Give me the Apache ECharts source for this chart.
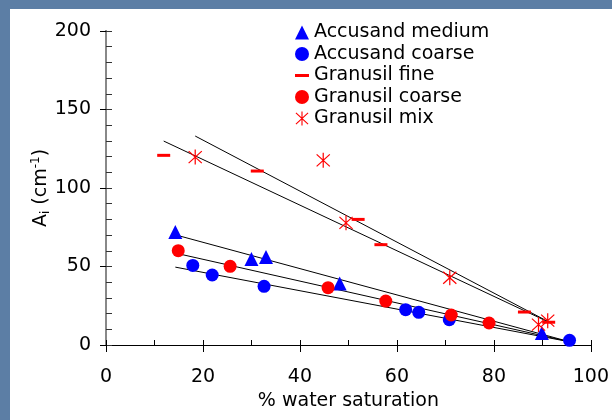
<!DOCTYPE html>
<html>
<head>
<meta charset="utf-8">
<script src="https://cdn.jsdelivr.net/npm/echarts@6/dist/echarts.min.js"></script>
<style>
html,body{margin:0;padding:0;background:#5c7ea5;}
#c{width:612px;height:420px;}
</style>
</head>
<body>
<div id="c"></div>
<script>
// ---- data ----
var accusandMediumX = [14.3, 30.0, 33.0, 48.2, 89.9];
var accusandMediumY = [72.0, 54.8, 56.1, 39.1, 7.6];

var accusandCoarseX = [17.9, 21.9, 32.6, 61.8, 64.5, 70.8, 95.6];
var accusandCoarseY = [50.7, 44.6, 37.4, 22.5, 20.8, 16.1, 3.0];

var granusilFineX = [11.9, 31.2, 52.0, 56.7, 86.3, 91.3];
var granusilFineY = [120.8, 110.8, 80.0, 63.9, 21.0, 14.5];

var granusilCoarseX = [14.9, 25.6, 45.8, 57.7, 71.2, 79.0];
var granusilCoarseY = [60.1, 50.1, 36.5, 28.0, 19.1, 14.0];

var granusilMixX = [18.4, 44.8, 49.5, 70.9, 89.2, 91.1];
var granusilMixY = [119.7, 117.6, 77.8, 42.8, 13.0, 15.5];

// fitted trend lines (start/end points)
var fitMixX = [18.4, 91.0];       var fitMixY = [133.1, 15.2];
var fitFineX = [11.9, 91.0];      var fitFineY = [129.9, 15.0];
var fitAccMedX = [14.4, 95.7];    var fitAccMedY = [70.1, 2.0];
var fitGranCoarseX = [15.1, 95.7];var fitGranCoarseY = [58.0, 2.0];
var fitAccCoarseX = [14.3, 95.7]; var fitAccCoarseY = [49.6, 2.0];

var xTicks = [0, 20, 40, 60, 80, 100];
var yTicks = [0, 50, 100, 150, 200];

var seriesNames = ['Accusand medium', 'Accusand coarse', 'Granusil fine', 'Granusil coarse', 'Granusil mix'];

function pairs(xs, ys) { return xs.map(function (x, i) { return [x, ys[i]]; }); }

// asterisk path (filled thin bars)
function bar(x1, y1, x2, y2, w) {
  var dx = x2 - x1, dy = y2 - y1, L = Math.sqrt(dx * dx + dy * dy);
  var nx = -dy / L * w / 2, ny = dx / L * w / 2;
  return 'M' + (x1 + nx) + ',' + (y1 + ny) + ' L' + (x2 + nx) + ',' + (y2 + ny) +
         ' L' + (x2 - nx) + ',' + (y2 - ny) + ' L' + (x1 - nx) + ',' + (y1 - ny) + ' Z ';
}
var starPath = 'path://' + bar(7, 0, 7, 15, 1.2) + bar(0.5, 1.5, 13.5, 13.5, 1.2) + bar(0.5, 13.5, 13.5, 1.5, 1.2);
var dashIcon = 'path://M0,5.6 L14,5.6 L14,8.6 L0,8.6 Z M0,0 L0.01,0 L0.01,0.01 Z M14,14 L13.99,14 L13.99,13.99 Z';

var chart = echarts.init(document.getElementById('c'));
var font = 'DejaVu Sans';

function fitLine(xs, ys) {
  return {
    type: 'line', data: pairs(xs, ys), symbol: 'none', silent: true, z: 1,
    lineStyle: { color: '#000', width: 1 }
  };
}

chart.setOption({
  animation: false,
  backgroundColor: '#5c7ea5',
  graphic: [{
    type: 'rect', left: 10, top: 9, z: -10,
    shape: { width: 602, height: 411 },
    style: { fill: '#ffffff' }
  }],
  grid: { left: 106, right: 16, top: 31, bottom: 75 },
  legend: {
    orient: 'vertical', left: 290, top: 18, itemGap: 2.5,
    itemWidth: 14, itemHeight: 14, itemStyle: { opacity: 1 },
    textStyle: { fontFamily: font, fontSize: 19, color: '#000', lineHeight: 19 },
    data: [
      { name: seriesNames[0], icon: 'triangle' },
      { name: seriesNames[1], icon: 'circle' },
      { name: seriesNames[2], icon: dashIcon },
      { name: seriesNames[3], icon: 'circle' },
      { name: seriesNames[4], icon: starPath }
    ]
  },
  xAxis: [{
    type: 'value', min: 0, max: 100, interval: 20,
    name: '% water saturation', nameLocation: 'middle', nameGap: 47, nameMoveOverlap: false,
    nameTextStyle: { fontFamily: font, fontSize: 19, color: '#000' },
    axisLine: { show: true, lineStyle: { color: '#000', width: 1 } },
    axisTick: { show: true, inside: false, length: 7, lineStyle: { color: '#000' } },
    axisLabel: { fontFamily: font, fontSize: 19, color: '#000', margin: 23,
      formatter: function (v) { return xTicks.indexOf(v) >= 0 ? String(v) : ''; } },
    splitLine: { show: false }
  }, {
    type: 'value', min: 0, max: 100, interval: 10, position: 'bottom', offset: 0,
    axisLine: { show: true, lineStyle: { color: '#000', width: 1 } },
    axisTick: { show: true, inside: true, length: 5, lineStyle: { color: '#000', width: 1 } },
    axisLabel: { show: false }, splitLine: { show: false }
  }],
  yAxis: [{
    type: 'value', min: 0, max: 200, interval: 50,
    name: '{n|A}{sub|i}{n| (cm}{sup|-1}{n|)}', nameLocation: 'middle', nameGap: 54, nameRotate: 90,
    nameMoveOverlap: false,
    nameTextStyle: {
      fontFamily: font, fontSize: 19, color: '#000',
      rich: {
        n: { fontFamily: font, fontSize: 19, color: '#000', lineHeight: 22 },
        sub: { fontFamily: font, fontSize: 12, color: '#000', lineHeight: 22, verticalAlign: 'bottom', padding: [6, 0, 0, 0] },
        sup: { fontFamily: font, fontSize: 12, color: '#000', lineHeight: 22, verticalAlign: 'top', padding: [0, 0, 8, 0] }
      }
    },
    axisLine: { show: true, lineStyle: { color: '#888', width: 2 } },
    axisTick: { show: true, inside: false, length: 6, lineStyle: { color: '#000' } },
    axisLabel: { fontFamily: font, fontSize: 19, color: '#000', margin: 15,
      formatter: function (v) { return yTicks.indexOf(v) >= 0 ? String(v) : ''; } },
    splitLine: { show: false }
  }, {
    type: 'value', min: 0, max: 200, interval: 10, position: 'left', offset: 0,
    axisLine: { show: true, lineStyle: { color: '#888', width: 2 } },
    axisTick: { show: true, inside: true, length: 6, lineStyle: { color: '#333', width: 1 } },
    axisLabel: { show: false }, splitLine: { show: false }
  }],
  series: [
    fitLine(fitMixX, fitMixY),
    fitLine(fitFineX, fitFineY),
    fitLine(fitAccMedX, fitAccMedY),
    fitLine(fitGranCoarseX, fitGranCoarseY),
    fitLine(fitAccCoarseX, fitAccCoarseY),
    { name: seriesNames[0], type: 'scatter', data: pairs(accusandMediumX, accusandMediumY),
      symbol: 'triangle', symbolSize: 14, itemStyle: { color: '#0000ff', opacity: 1 }, z: 3 },
    { name: seriesNames[1], type: 'scatter', data: pairs(accusandCoarseX, accusandCoarseY),
      symbol: 'circle', symbolSize: 13, itemStyle: { color: '#0000ff', opacity: 1 }, z: 3 },
    { name: seriesNames[2], type: 'scatter', data: pairs(granusilFineX, granusilFineY),
      symbol: 'rect', symbolSize: [13, 3], itemStyle: { color: '#ff0000', opacity: 1 }, z: 3 },
    { name: seriesNames[3], type: 'scatter', data: pairs(granusilCoarseX, granusilCoarseY),
      symbol: 'circle', symbolSize: 13, itemStyle: { color: '#ff0000', opacity: 1 }, z: 3 },
    { name: seriesNames[4], type: 'scatter', data: pairs(granusilMixX, granusilMixY),
      symbol: starPath, symbolSize: [14, 15], itemStyle: { color: '#ff0000', opacity: 1 }, z: 3 }
  ]
});
</script>
</body>
</html>
